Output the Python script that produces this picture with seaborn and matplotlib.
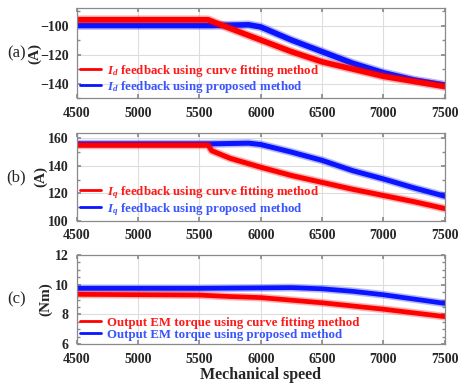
import numpy as np
import pandas as pd
import matplotlib
matplotlib.use("Agg")
import matplotlib.pyplot as plt
from matplotlib.ticker import MultipleLocator
from matplotlib.lines import Line2D
import seaborn as sns

# ---------------- data ----------------
xticks = [4500, 5000, 5500, 6000, 6500, 7000, 7500]

# (a) Id feedback
a_red_x = [4500, 5570, 5750, 6000, 6250, 6500, 6750, 7000, 7250, 7500]
a_red_y = [-96, -96, -102, -110, -118, -125, -130, -135, -138.5, -142]
a_blue_x = [4500, 5600, 5900, 6000, 6250, 6500, 6750, 7000, 7250, 7500]
a_blue_y = [-100, -100, -99.5, -101, -110, -118, -126, -132.5, -137.5, -141]

# (b) Iq feedback
b_red_x = [4500, 5570, 5600, 5750, 6000, 6250, 6500, 6750, 7000, 7250, 7500]
b_red_y = [155, 155, 151, 145.5, 139, 133, 128, 123, 118.5, 114, 109]
b_blue_x = [4500, 5600, 5900, 6000, 6250, 6500, 6750, 7000, 7250, 7500]
b_blue_y = [156, 156, 156.5, 155.5, 150, 144, 136.5, 130.5, 124, 118]

# (c) output EM torque
c_red_x = [4500, 5500, 5750, 6000, 6500, 7000, 7500]
c_red_y = [9.35, 9.3, 9.2, 9.13, 8.78, 8.35, 7.85]
c_blue_x = [4500, 5500, 6000, 6250, 6500, 6750, 7000, 7500]
c_blue_y = [9.75, 9.75, 9.78, 9.8, 9.72, 9.55, 9.32, 8.74]

labels_a = [r"$I_d$ feedback using curve fitting method", r"$I_d$ feedback using proposed method"]
labels_b = [r"$I_q$ feedback using curve fitting method", r"$I_q$ feedback using proposed method"]
labels_c = ["Output EM torque using curve fitting method", "Output EM torque using proposed method"]

# ---------------- style ----------------
sns.set_theme(style="ticks")
plt.rcParams["font.family"] = ["Liberation Serif", "DejaVu Serif"]
plt.rcParams["font.weight"] = "bold"
plt.rcParams["mathtext.fontset"] = "custom"
plt.rcParams["mathtext.rm"] = "Liberation Serif:bold"
plt.rcParams["mathtext.it"] = "Liberation Serif:italic:bold"
plt.rcParams["mathtext.bf"] = "Liberation Serif:bold"

RED = "#ff0000"
BLUE = "#0a14ff"
RED_TXT = "#ff1a1a"
BLUE_TXT = "#3a55ff"

fig = plt.figure(figsize=(4.6, 3.85), dpi=100)
left, width = 0.167, 0.800
boxes = [(0.745, 0.234), (0.426, 0.229), (0.106, 0.232)]
axes = [fig.add_axes([left, b, width, h]) for b, h in boxes]

panels = [
    (a_red_x, a_red_y, a_blue_x, a_blue_y, labels_a, (-150, -88), [-140, -120, -100], 10, "(A)", "(a)", 4.0, -0.095),
    (b_red_x, b_red_y, b_blue_x, b_blue_y, labels_b, (100, 164), [100, 120, 140, 160], 10, "(A)", "(b)", 3.6, -0.079),
    (c_red_x, c_red_y, c_blue_x, c_blue_y, labels_c, (6, 12), [6, 8, 10, 12], 0.5, "(Nm)", "(c)", 3.4, -0.066),
]

for ax, (rx, ry, bx, by, labs, ylim, yt, ymin, ylab, tag, lw, ylx) in zip(axes, panels):
    dfb = pd.DataFrame({"speed": bx, "val": by})
    dfr = pd.DataFrame({"speed": rx, "val": ry})
    # noisy fringe (light) + core band
    sns.lineplot(data=dfb, x="speed", y="val", ax=ax, color=BLUE, lw=lw + 2.2, alpha=0.3)
    sns.lineplot(data=dfb, x="speed", y="val", ax=ax, color=BLUE, lw=lw)
    sns.lineplot(data=dfr, x="speed", y="val", ax=ax, color=RED, lw=lw + 2.2, alpha=0.3)
    sns.lineplot(data=dfr, x="speed", y="val", ax=ax, color=RED, lw=lw)

    ax.set_xlim(4500, 7500)
    ax.set_ylim(*ylim)
    ax.set_xticks(xticks)
    ax.set_yticks(yt)
    ax.yaxis.set_minor_locator(MultipleLocator(ymin))
    ax.grid(True, which="major", color="#dddddd", lw=0.8)
    ax.set_axisbelow(True)
    for sp in ax.spines.values():
        sp.set_color("#8a8a8a")
        sp.set_linewidth(0.9)
    ax.tick_params(axis="both", which="both", direction="in", color="#8a8a8a",
                   top=True, right=True, labelsize=10)
    ax.tick_params(axis="x", which="major", length=3, pad=6)
    ax.tick_params(axis="y", which="major", length=3, pad=6)
    ax.tick_params(axis="y", which="minor", length=2)
    for t in ax.get_xticklabels() + ax.get_yticklabels():
        t.set_fontweight("bold")
    ax.set_xlabel("")
    ax.set_ylabel(ylab, fontsize=11, fontweight="bold")
    ax.yaxis.set_label_coords(ylx, 0.5)

    handles = [Line2D([0], [0], color=RED, lw=2), Line2D([0], [0], color=BLUE, lw=2)]
    leg = ax.legend(handles, labs, loc="lower left", frameon=False,
                    handlelength=1.6, handletextpad=0.5, labelspacing=0.02,
                    borderaxespad=0.05, borderpad=0.2,
                    prop={"family": "Liberation Serif", "weight": "bold", "size": 9.3})
    for txt, c in zip(leg.get_texts(), [RED_TXT, BLUE_TXT]):
        txt.set_color(c)
        txt.set_fontweight("bold")

    bb = ax.get_position()
    fig.text(0.036, bb.y0 + bb.height / 2, tag, fontsize=12, fontweight="normal",
             ha="center", va="center")

axes[2].set_xlabel("Mechanical speed", fontsize=11.5, fontweight="bold", labelpad=1)

fig.savefig("out.png", dpi=100)
